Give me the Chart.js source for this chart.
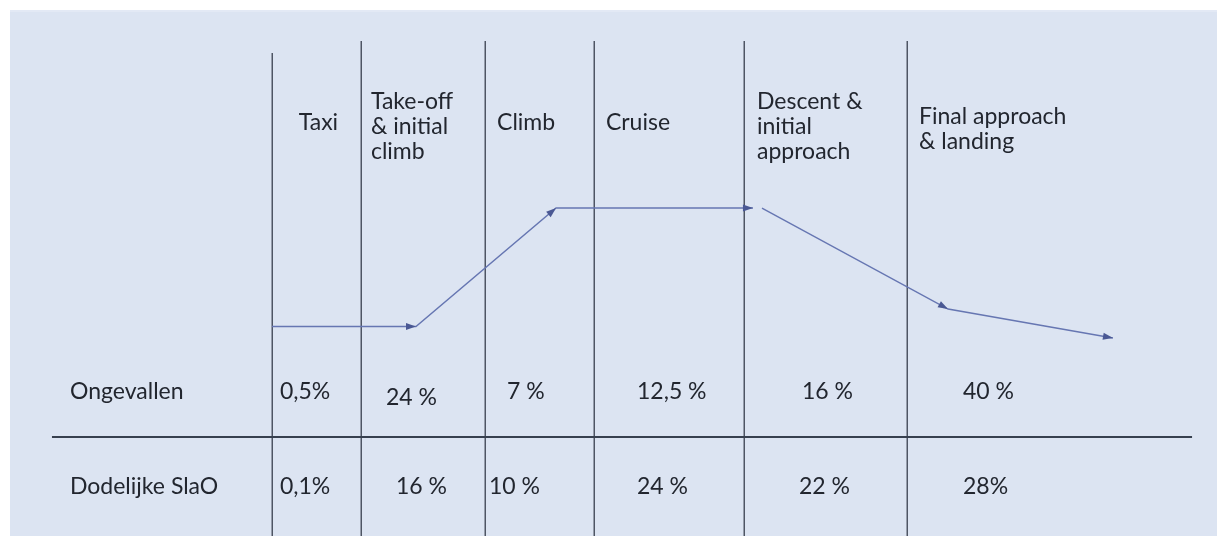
<!DOCTYPE html>
<html lang="nl">
<head>
    <meta charset="UTF-8">
    <title>Vluchtfasen</title>
    <script src="https://cdn.jsdelivr.net/npm/chart.js"></script>
    <style>
        html, body { margin: 0; padding: 0; background: #fff; }
        .wrap { width: 1217px; height: 536px; position: relative; }
    </style>
</head>
<body>
    <div class="wrap">
        <canvas id="myChart" width="1217" height="536"></canvas>
    </div>

    <script>
        // fasen van de vlucht (kolomkoppen)
        const fasen = [
            ['Taxi'],
            ['Take-off', '& initial', 'climb'],
            ['Climb'],
            ['Cruise'],
            ['Descent &', 'initial', 'approach'],
            ['Final approach', '& landing']
        ];
        const rijLabels = ['Ongevallen', 'Dodelijke SlaO'];
        const ongevallen = ['0,5%', '24 %', '7 %', '12,5 %', '16 %', '40 %'];
        const dodelijk = ['0,1%', '16 %', '10 %', '24 %', '22 %', '28%'];

        // grenzen tussen de fasen (x, 0-100 over de breedte)
        const grenzen = [22.35, 29.66, 39.85, 48.81, 61.13, 74.53];
        // vliegprofiel (x afstand, y hoogte) - null = onderbreking
        const profielX = [22.35, 34.18, 45.69, 61.87, 62.2, 62.61, 77.9, 91.45];
        const profielY = [39.09, 39.09, 61.19, 61.19, null, 61.19, 42.35, 36.94];

        // opmaak / posities van de teksten (in schaal-eenheden)
        const kopX = [24.55, 30.48, 40.84, 49.79, 62.2, 75.51];
        const kopY = [77.05, 80.97, 77.05, 77.05, 80.97, 78.17];
        const rij1X = [23.0, 31.72, 41.66, 52.34, 65.9, 79.13];
        const rij1Y = [26.87, 25.75, 26.87, 26.87, 26.87, 26.87];
        const rij2X = [23.0, 32.54, 40.18, 52.34, 65.65, 79.13];
        const rij2Y = 9.14;
        const rijLabelX = 5.75;
        const regelAfstand = 25;
        const lijnTop = [90.1, 92.35, 92.35, 92.35, 92.35, 92.35];
        const scheidingY = 18.47;
        const scheidingVan = 4.27, scheidingTot = 97.95;

        const FONT = '23px Lato, "Open Sans", sans-serif';
        const TEKST = '#22262f';

        const profielData = profielX.map((x, i) => ({ x: x, y: profielY[i] }));

        const achtergrond = {
            id: 'achtergrond',
            beforeDraw(chart) {
                const ctx = chart.ctx;
                ctx.save();
                ctx.fillStyle = '#ffffff';
                ctx.fillRect(0, 0, chart.width, chart.height);
                ctx.fillStyle = '#dce4f2';
                ctx.fillRect(10, 10, chart.width - 10, chart.height - 10);
                ctx.fillStyle = '#e3e9f5';
                ctx.fillRect(10, 10, chart.width - 10, 2);
                ctx.restore();
            }
        };

        const tabel = {
            id: 'tabel',
            beforeDatasetsDraw(chart) {
                const ctx = chart.ctx;
                const sx = chart.scales.x, sy = chart.scales.y;
                ctx.save();
                // verticale lijnen
                ctx.strokeStyle = '#4e5564';
                ctx.lineWidth = 1.5;
                grenzen.forEach((g, i) => {
                    const px = Math.round(sx.getPixelForValue(g)) + 0.25;
                    ctx.beginPath();
                    ctx.moveTo(px, sy.getPixelForValue(lijnTop[i]));
                    ctx.lineTo(px, sy.getPixelForValue(0));
                    ctx.stroke();
                });
                // horizontale scheiding
                ctx.strokeStyle = '#37404f';
                ctx.lineWidth = 2;
                const hy = Math.round(sy.getPixelForValue(scheidingY));
                ctx.beginPath();
                ctx.moveTo(sx.getPixelForValue(scheidingVan), hy);
                ctx.lineTo(sx.getPixelForValue(scheidingTot), hy);
                ctx.stroke();

                // teksten
                ctx.fillStyle = TEKST;
                ctx.font = FONT;
                ctx.textBaseline = 'middle';
                ctx.textAlign = 'left';
                fasen.forEach((regels, i) => {
                    regels.forEach((t, j) => {
                        ctx.fillText(t, sx.getPixelForValue(kopX[i]), sy.getPixelForValue(kopY[i]) + j * regelAfstand);
                    });
                });
                ctx.fillText(rijLabels[0], sx.getPixelForValue(rijLabelX), sy.getPixelForValue(rij1Y[0]));
                ctx.fillText(rijLabels[1], sx.getPixelForValue(rijLabelX), sy.getPixelForValue(rij2Y));
                ongevallen.forEach((t, i) => {
                    ctx.fillText(t, sx.getPixelForValue(rij1X[i]), sy.getPixelForValue(rij1Y[i]));
                });
                dodelijk.forEach((t, i) => {
                    ctx.fillText(t, sx.getPixelForValue(rij2X[i]), sy.getPixelForValue(rij2Y));
                });
                ctx.restore();
            }
        };

        // pijlpunten aan het eind van elk segment
        const pijlen = {
            id: 'pijlen',
            afterDatasetsDraw(chart) {
                const ctx = chart.ctx;
                const punten = chart.getDatasetMeta(0).data;
                ctx.save();
                ctx.fillStyle = '#4a5894';
                for (let i = 1; i < punten.length; i++) {
                    if (profielY[i] === null || profielY[i - 1] === null) continue;
                    const a = punten[i - 1], b = punten[i];
                    const hoek = Math.atan2(b.y - a.y, b.x - a.x);
                    ctx.save();
                    ctx.translate(b.x, b.y);
                    ctx.rotate(hoek);
                    ctx.beginPath();
                    ctx.moveTo(0, 0);
                    ctx.lineTo(-10, -3.5);
                    ctx.lineTo(-10, 3.5);
                    ctx.closePath();
                    ctx.fill();
                    ctx.restore();
                }
                ctx.restore();
            }
        };

        const ctx = document.getElementById('myChart').getContext('2d');
        new Chart(ctx, {
            type: 'line',
            data: {
                datasets: [{
                    label: 'Vliegprofiel',
                    data: profielData,
                    borderColor: '#6676b2',
                    borderWidth: 1.4,
                    pointRadius: 0,
                    spanGaps: false,
                    tension: 0
                }]
            },
            options: {
                responsive: false,
                animation: false,
                layout: { padding: 0 },
                plugins: {
                    legend: { display: false },
                    tooltip: { enabled: false }
                },
                scales: {
                    x: { type: 'linear', min: 0, max: 100, display: false },
                    y: { type: 'linear', min: 0, max: 100, display: false }
                }
            },
            plugins: [achtergrond, tabel, pijlen]
        });
    </script>
</body>
</html>
